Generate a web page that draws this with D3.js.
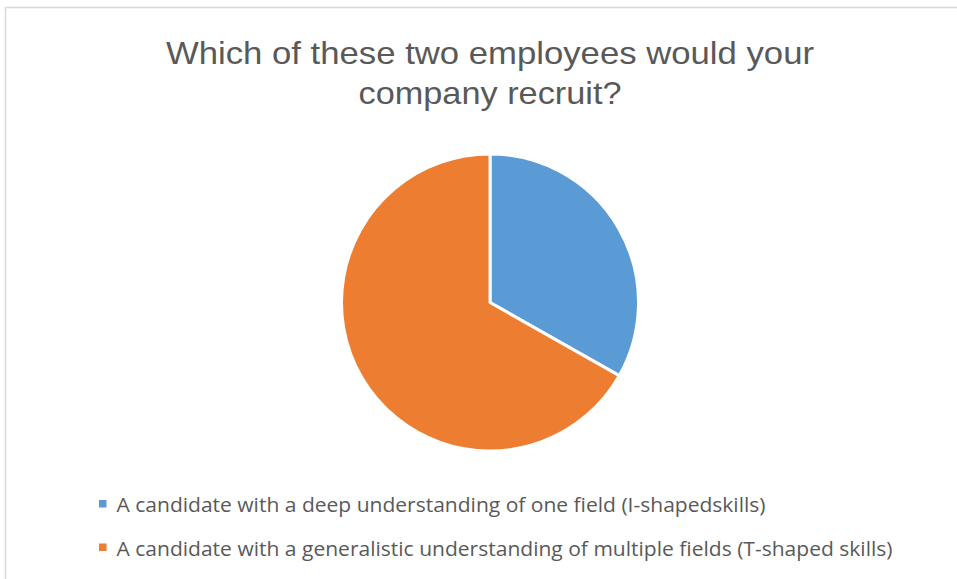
<!DOCTYPE html>
<html lang="en">
<head>
    <meta charset="UTF-8"/>
    <title>Recruit pie</title>
    <script src="https://d3js.org/d3.v7.min.js"></script>
    <style>
        body { margin: 0; background: #fff; }
        svg { display: block; }
    </style>
</head>
<body>
<div id="chart"></div>
<script>
    const categories = [
        "A candidate with a deep understanding of one field (I-shapedskills)",
        "A candidate with a generalistic understanding of multiple fields (T-shaped skills)"
    ];
    const shares = [33.2, 66.8];
    const colors = ["#5B9BD5", "#ED7D31"];
    const titleLines = ["Which of these two employees would your", "company recruit?"];

    const width = 957;
    const height = 579;

    const svg = d3.select("#chart")
        .append("svg")
        .attr("width", width)
        .attr("height", height);

    // chart area border (runs off the right and bottom edge)
    svg.append("rect")
        .attr("x", 5.5)
        .attr("y", 7.5)
        .attr("width", width + 20)
        .attr("height", height + 20)
        .attr("fill", "white")
        .attr("stroke", "#d9d9d9")
        .attr("stroke-width", 1.5);

    // Title
    const titleWidths = [648, 263];
    svg.selectAll(".title")
        .data(titleLines)
        .join("text")
        .attr("class", "title")
        .attr("x", 490)
        .attr("y", (d, i) => 63.5 + i * 40)
        .attr("text-anchor", "middle")
        .attr("textLength", (d, i) => titleWidths[i])
        .attr("lengthAdjust", "spacingAndGlyphs")
        .style("font-family", "'Liberation Sans', Arial, sans-serif")
        .style("font-size", "32px")
        .style("fill", "#595959")
        .text(d => d);

    // Pie
    const cx = 490, cy = 302.5, radius = 148.5;
    const pie = d3.pie().sort(null).value(d => d);
    const arc = d3.arc().innerRadius(0).outerRadius(radius);

    const g = svg.append("g").attr("transform", `translate(${cx}, ${cy})`);
    g.selectAll("path")
        .data(pie(shares))
        .join("path")
        .attr("d", arc)
        .attr("fill", (d, i) => colors[i])
        .attr("stroke", "white")
        .attr("stroke-width", 3)
        .attr("stroke-linejoin", "round");

    // Legend
    const legendWidths = [649, 776];
    const legend = svg.selectAll(".legend")
        .data(categories)
        .join("g")
        .attr("class", "legend")
        .attr("transform", (d, i) => `translate(99, ${500 + i * 43.5})`);

    legend.append("rect")
        .attr("width", 7.5)
        .attr("height", 7.5)
        .attr("fill", (d, i) => colors[i]);

    legend.append("text")
        .attr("x", 17.5)
        .attr("y", 12)
        .attr("textLength", (d, i) => legendWidths[i])
        .attr("lengthAdjust", "spacingAndGlyphs")
        .style("font-family", "'Open Sans', sans-serif")
        .style("font-size", "20.5px")
        .style("fill", "#595959")
        .text(d => d);
</script>
</body>
</html>
